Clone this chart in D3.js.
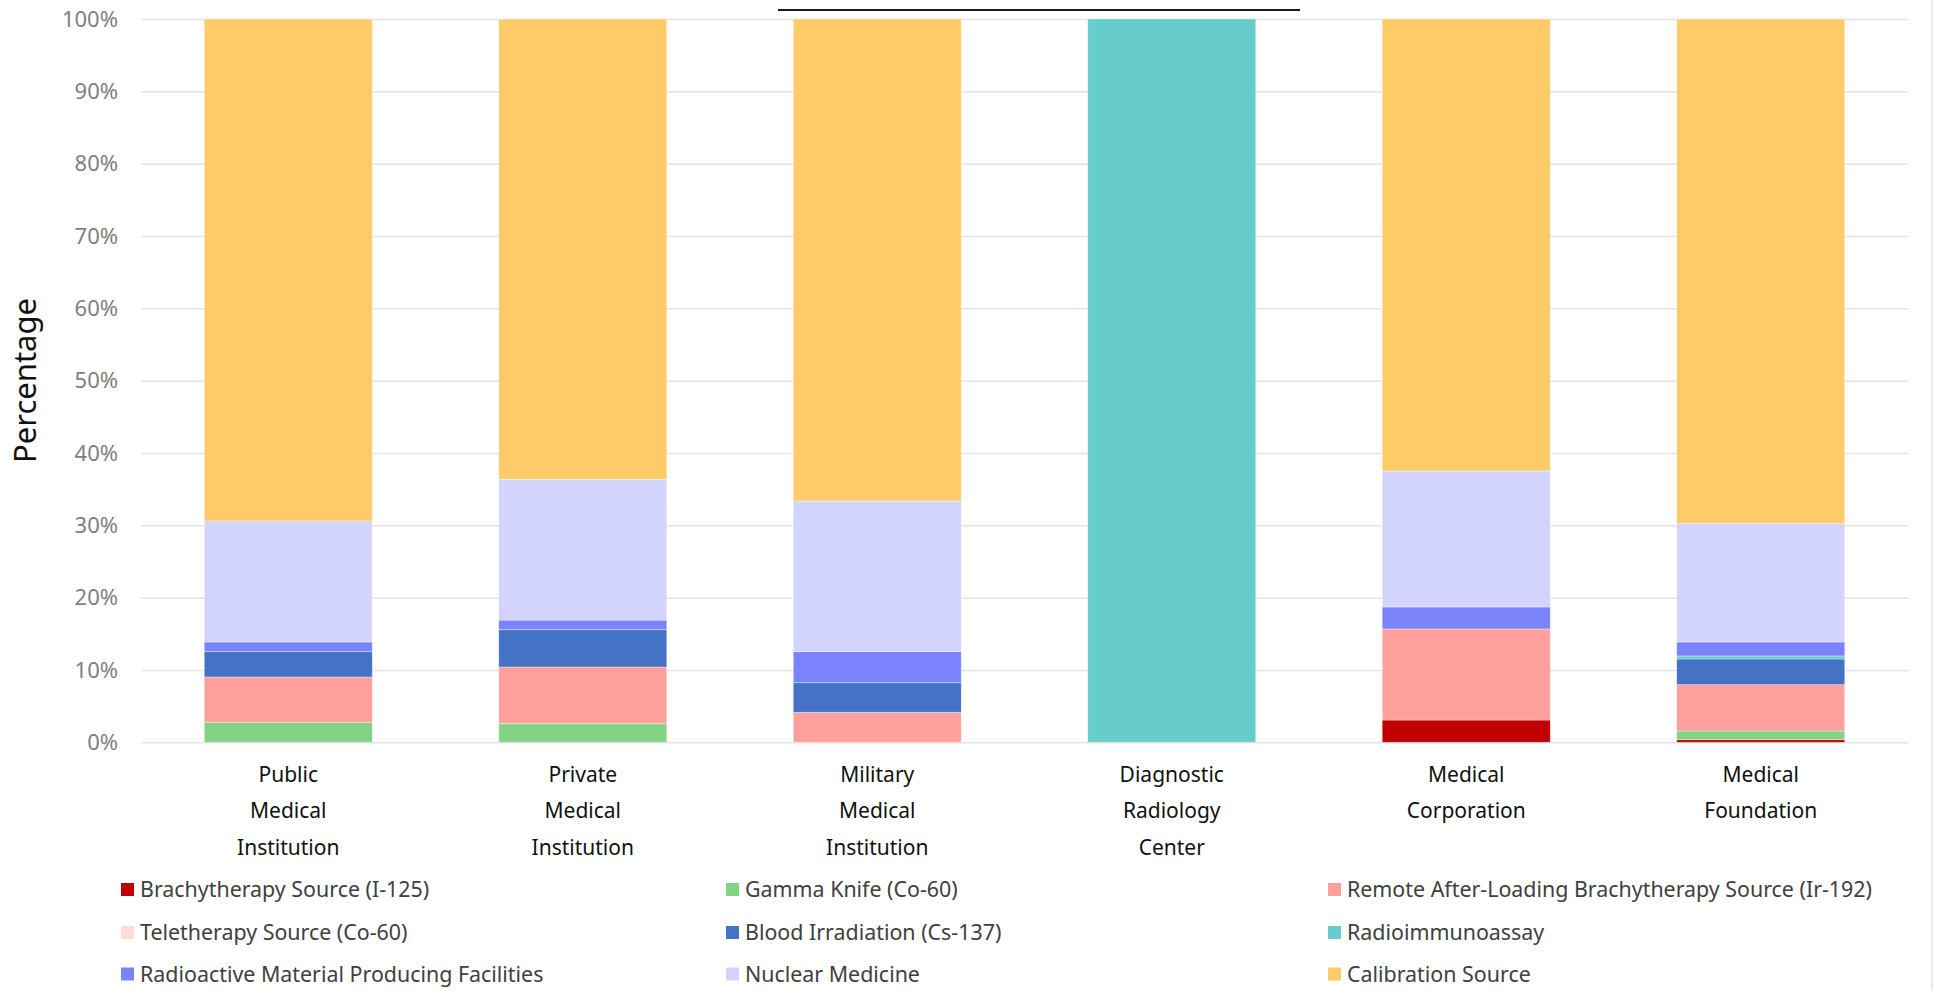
<!DOCTYPE html>
<html>
<head>
<meta charset="utf-8">
<script src="https://cdn.jsdelivr.net/npm/d3@7"></script>
<style>
  html, body { margin: 0; padding: 0; background: #fff; overflow: hidden; }
  svg { display: block; font-family: "Noto Sans", "Open Sans", sans-serif; }
</style>
</head>
<body>
<svg id="chart" width="1943" height="991"></svg>
<script>
// ---- data ----
const categories = [
  "Public Medical Institution",
  "Private Medical Institution",
  "Military Medical Institution",
  "Diagnostic Radiology Center",
  "Medical Corporation",
  "Medical Foundation"
];
const categoryLines = [
  ["Public", "Medical", "Institution"],
  ["Private", "Medical", "Institution"],
  ["Military", "Medical", "Institution"],
  ["Diagnostic", "Radiology", "Center"],
  ["Medical", "Corporation"],
  ["Medical", "Foundation"]
];
const seriesNames = [
  "Brachytherapy Source (I-125)",
  "Gamma Knife (Co-60)",
  "Remote After-Loading Brachytherapy Source (Ir-192)",
  "Teletherapy Source (Co-60)",
  "Blood Irradiation (Cs-137)",
  "Radioimmunoassay",
  "Radioactive Material Producing Facilities",
  "Nuclear Medicine",
  "Calibration Source"
];
const seriesColors = [
  "#c00000", "#83d387", "#ffa09c", "#ffdcdc", "#4472c4",
  "#66cccc", "#7a83fc", "#d3d4fd", "#ffcb69"
];
// percentages per category (same order as categories)
const brachyI125   = [0,     0,     0,     0,   3.08,  0.36];
const gammaKnife   = [2.77,  2.57,  0,     0,   0,     1.20];
const remoteIr192  = [6.26,  7.84,  4.15,  0,   12.59, 6.41];
const teletherapy  = [0,     0,     0,     0,   0,     0];
const bloodCs137   = [3.50,  5.16,  4.09,  0,   0,     3.55];
const radioimmuno  = [0,     0,     0,     100, 0,     0.42];
const rmpf         = [1.34,  1.33,  4.29,  0,   3.04,  1.93];
const nuclearMed   = [16.73, 19.47, 20.84, 0,   18.81, 16.37];
const calibration  = [69.40, 63.63, 66.63, 0,   62.48, 69.76];
const yTicks = [0, 10, 20, 30, 40, 50, 60, 70, 80, 90, 100];
const yTitle = "Percentage";

// ---- build table ----
const seriesValues = [brachyI125, gammaKnife, remoteIr192, teletherapy, bloodCs137,
                      radioimmuno, rmpf, nuclearMed, calibration];
const table = categories.map((c, i) => {
  const row = { category: c };
  seriesNames.forEach((s, j) => { row[s] = seriesValues[j][i]; });
  return row;
});

const svg = d3.select("#chart");
const plotLeft = 141, plotRight = 1908, plotTop = 19, plotBottom = 742.3;

const x = d3.scaleBand().domain(categories).range([plotLeft, plotRight])
  .paddingInner(0.4295).paddingOuter(0.2148);
const y = d3.scaleLinear().domain([0, 100]).range([plotBottom, plotTop]);
const color = d3.scaleOrdinal().domain(seriesNames).range(seriesColors);

// decorative line at top & right border
svg.append("line").attr("x1", 778).attr("x2", 1300).attr("y1", 10).attr("y2", 10)
  .attr("stroke", "#1a1a1a").attr("stroke-width", 2);
svg.append("line").attr("x1", 1932).attr("x2", 1932).attr("y1", 0).attr("y2", 991)
  .attr("stroke", "#e2e2e2").attr("stroke-width", 1.5);

// y axis + gridlines
const yAxis = svg.append("g").attr("transform", `translate(${plotLeft},0)`)
  .call(d3.axisLeft(y).tickValues(yTicks).tickFormat(d => d + "%")
    .tickSize(-(plotRight - plotLeft)).tickPadding(23));
yAxis.select(".domain").remove();
yAxis.selectAll(".tick line").attr("stroke", "#e4e4e4").attr("stroke-width", 1.5);
yAxis.selectAll(".tick text").attr("fill", "#7f7f7f")
  .style("font-size", "22px").style("font-family", "'Noto Sans', sans-serif");

// stacked bars
const stacked = d3.stack().keys(seriesNames)(table);
svg.append("g").selectAll("g").data(stacked).join("g")
  .attr("fill", d => color(d.key))
  .selectAll("rect").data(d => d).join("rect")
  .attr("x", d => x(d.data.category))
  .attr("width", x.bandwidth())
  .attr("y", d => y(d[1]))
  .attr("height", d => Math.max(0, y(d[0]) - y(d[1])))
  .attr("stroke", "rgba(255,255,255,0.45)")
  .attr("stroke-width", d => (d[1] - d[0]) > 0 ? 0.8 : 0);

// x axis labels
const xAxis = svg.append("g").attr("transform", `translate(0,${plotBottom})`)
  .call(d3.axisBottom(x).tickSize(0).tickFormat(""));
xAxis.select(".domain").remove();
xAxis.selectAll(".tick").each(function(d, i) {
  const t = d3.select(this).append("text")
    .attr("fill", "#111").attr("text-anchor", "middle")
    .style("font-size", "21px").style("font-family", "'Noto Sans', sans-serif");
  categoryLines[i].forEach((line, k) => {
    t.append("tspan").attr("x", 0).attr("y", 39.5 + k * 36.7).text(line);
  });
});

// y title
svg.append("text")
  .attr("transform", `translate(36,380.5) rotate(-90)`)
  .attr("text-anchor", "middle").attr("fill", "#111")
  .style("font-size", "31px")
  .text(yTitle);

// legend
const legendCols = [121, 726, 1328];
const legendRows = [889.5, 932.5, 974];
const legend = svg.append("g");
seriesNames.forEach((s, i) => {
  const cx = legendCols[i % 3], cy = legendRows[Math.floor(i / 3)];
  const g = legend.append("g").attr("transform", `translate(${cx},${cy})`);
  g.append("rect").attr("x", 0).attr("y", -6.5).attr("width", 13).attr("height", 13)
    .attr("fill", color(s));
  g.append("text").attr("x", 19).attr("y", 0).attr("dy", "0.35em")
    .attr("fill", "#404040").style("font-size", "21.4px").text(s);
});
</script>
</body>
</html>
